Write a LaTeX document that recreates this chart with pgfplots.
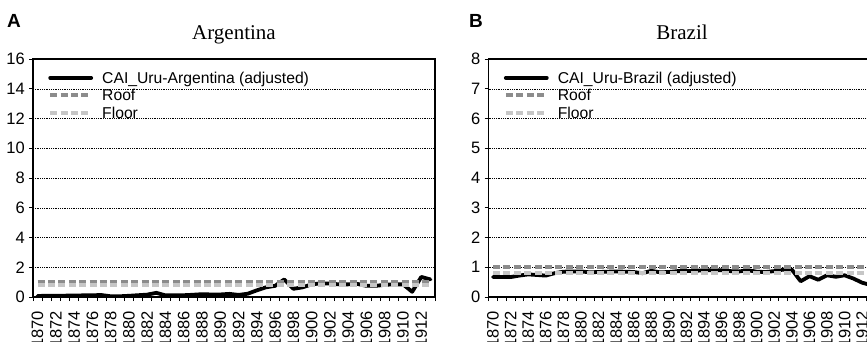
\documentclass[border=0pt]{standalone}
\usepackage{fontspec}
\setmainfont{Liberation Sans}
\newfontfamily\serifnm{Liberation Serif}
\usepackage{pgfplots}
\usepackage{pgfplotstable}
\pgfplotsset{compat=1.18}

\definecolor{roofc}{HTML}{8C8C8C}
\definecolor{floorc}{HTML}{C6C6C6}

\pgfplotstableread{
year val
1870 0.07
1871 0.08
1872 0.09
1873 0.09
1874 0.10
1875 0.11
1876 0.12
1877 0.13
1878 0.05
1879 0.05
1880 0.08
1881 0.12
1882 0.16
1883 0.28
1884 0.11
1885 0.12
1886 0.12
1887 0.15
1888 0.19
1889 0.17
1890 0.17
1891 0.21
1892 0.14
1893 0.22
1894 0.45
1895 0.65
1896 0.75
1897 1.18
1898 0.55
1899 0.65
1900 0.85
1901 0.92
1902 0.90
1903 0.85
1904 0.85
1905 0.88
1906 0.75
1907 0.75
1908 0.82
1909 0.85
1910 0.85
1911 0.35
1912 1.35
1913 1.18
}\argtable

\pgfplotstableread{
year val
1870 0.67
1871 0.67
1872 0.67
1873 0.72
1874 0.76
1875 0.74
1876 0.72
1877 0.80
1878 0.85
1879 0.86
1880 0.86
1881 0.83
1882 0.84
1883 0.85
1884 0.86
1885 0.85
1886 0.84
1887 0.80
1888 0.88
1889 0.83
1890 0.84
1891 0.87
1892 0.87
1893 0.88
1894 0.90
1895 0.90
1896 0.90
1897 0.87
1898 0.86
1899 0.90
1900 0.85
1901 0.84
1902 0.87
1903 0.92
1904 0.92
1905 0.53
1906 0.70
1907 0.58
1908 0.73
1909 0.68
1910 0.73
1911 0.62
1912 0.48
1913 0.40
}\braztable

\pgfplotsset{
  myaxis/.style={
    scale only axis, height=238pt, anchor=south west,
    xmin=1869.5, xmax=1913.5, ymin=0,
    clip mode=individual,
    axis line style={black, line width=1.2pt},
    tick align=outside, tick pos=left,
    xtick={1870,1872,...,1912},
    minor xtick={1869.5,1870.5,...,1913.5},
    major x tick style={draw=none},
    minor x tick style={black, line width=0.8pt},
    minor tick length=4pt,
    major tick length=4pt,
    ytick style={black, line width=0.8pt},
    ymajorgrids,
    grid style={black, line width=0.5pt, dash pattern=on 1pt off 0.8pt},
    /pgf/number format/1000 sep={},
    /pgf/number format/assume math mode=true,
    x tick label style={font=\fontsize{16.5}{16.5}\selectfont, rotate=90, anchor=east, inner sep=0pt},
    xticklabel shift=10pt,
    y tick label style={font=\fontsize{16.5}{16.5}\selectfont, inner sep=0pt},
    yticklabel shift=4pt,
    title style={font=\serifnm\fontsize{21}{21}\selectfont, at={(0.5,1)}, anchor=base, yshift=14pt},
    legend style={at={(0,1)}, anchor=north west, xshift=15pt, yshift=-13pt,
      draw=none, fill=none, inner sep=0pt, row sep=6.3pt, column sep=9pt,
      nodes={inner sep=0pt, text height=11.2pt, text depth=0pt, font=\fontsize{15.7}{15.7}\selectfont},
      cells={anchor=west}},
    legend image code/.code={\draw[##1] (0pt,0pt) -- (41pt,0pt);},
  },
  cai/.style={black, line width=3.8pt, line join=round, line cap=round},
  roof/.style={roofc, line width=4pt, dash pattern=on 7pt off 3.4pt},
  floor/.style={floorc, line width=4pt, dash pattern=on 7pt off 3.4pt},
}

\begin{document}
\begin{tikzpicture}
\useasboundingbox (0,0) rectangle (867pt,341pt);
\clip (0,0) rectangle (867pt,341pt);

\begin{axis}[myaxis, at={(33pt,44pt)}, width=402pt,
  ymax=16, ytick={0,2,...,16}, title={Argentina}]
  \addplot[cai] table[x=year, y=val] {\argtable};
  \addlegendentry{CAI\_Uru-Argentina (adjusted)}
  \addplot[roof] coordinates {(1870,1.0) (1913,1.0)};
  \addlegendentry{Roof}
  \addplot[floor] coordinates {(1870,0.8) (1913,0.8)};
  \addlegendentry{Floor}
  \node[anchor=base west, font=\bfseries\fontsize{19}{19}\selectfont, inner sep=0pt]
    at (axis description cs:-0.0647,1.134) {A};
\end{axis}

\begin{axis}[myaxis, at={(488.6pt,44pt)}, width=386.8pt,
  ymax=8, ytick={0,1,...,8}, title={Brazil}]
  \addplot[cai] table[x=year, y=val] {\braztable};
  \addlegendentry{CAI\_Uru-Brazil (adjusted)}
  \addplot[roof] coordinates {(1870,1.0) (1913,1.0)};
  \addlegendentry{Roof}
  \addplot[floor] coordinates {(1870,0.8) (1913,0.8)};
  \addlegendentry{Floor}
  \node[anchor=base west, font=\bfseries\fontsize{19}{19}\selectfont, inner sep=0pt]
    at (axis description cs:-0.0507,1.134) {B};
\end{axis}
\end{tikzpicture}
\end{document}
